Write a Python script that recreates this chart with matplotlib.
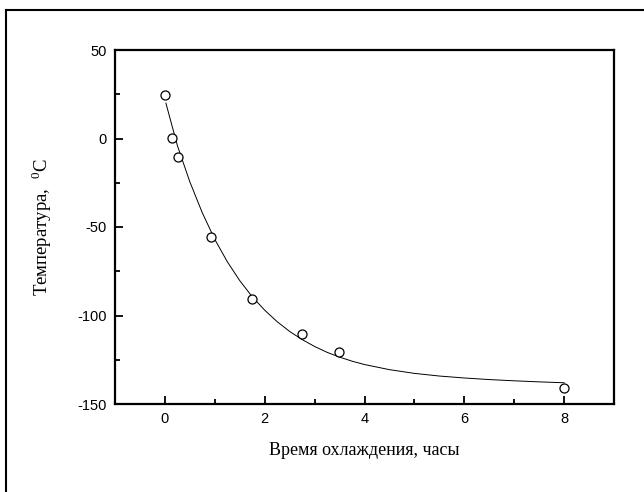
import matplotlib
matplotlib.use("Agg")
import matplotlib.pyplot as plt
from matplotlib.ticker import MultipleLocator
from matplotlib.lines import Line2D

# measured points
time_h = [0.0, 0.15, 0.27, 0.92, 1.74, 2.75, 3.49, 8.0]
temp_c = [24.6, 0.1, -10.5, -55.5, -90.5, -110.5, -120.5, -141.0]

# fitted curve
fit_t = [0.02, 0.25, 0.5, 0.75, 1.0, 1.25, 1.5, 1.75, 2.0, 2.25, 2.5, 2.75, 3.0, 3.25, 3.5, 3.75,
         4.0, 4.5, 5.0, 5.5, 6.0, 6.5, 7.0, 7.5, 8.0]
fit_y = [20.0, -4.0, -24.5, -42.0, -57.0, -69.6, -80.3, -89.4, -97.0, -103.5, -109.0, -113.6, -117.5,
         -120.8, -123.5, -125.8, -127.7, -130.6, -132.7, -134.2, -135.3, -136.2, -136.9, -137.5, -138.0]

plt.rcParams['font.family'] = ['Liberation Sans', 'DejaVu Sans']
plt.rcParams['mathtext.fontset'] = 'custom'
plt.rcParams['mathtext.rm'] = 'Liberation Serif'
plt.rcParams['axes.unicode_minus'] = False

fig = plt.figure(figsize=(6.44, 4.92), dpi=100)
ax = fig.add_axes([115/644, 1 - 404/492, (614-115)/644, (404-50)/492])

ax.plot(fit_t, fit_y, color='black', lw=0.7)
ax.plot(time_h, temp_c, linestyle='none', marker='o', ms=6.5, mfc='white', mec='black', mew=0.9)

ax.set_xlim(-1, 9)
ax.set_ylim(-150, 50)
ax.xaxis.set_major_locator(MultipleLocator(2))
ax.xaxis.set_minor_locator(MultipleLocator(1))
ax.yaxis.set_major_locator(MultipleLocator(50))
ax.yaxis.set_minor_locator(MultipleLocator(25))
ax.tick_params(which='both', direction='in', top=False, right=False, width=1.3, labelsize=10.5)
ax.tick_params(which='major', length=6, pad=6)
ax.tick_params(which='minor', length=3.5)
for s in ax.spines.values():
    s.set_linewidth(1.6)

ax.set_xlabel('Время охлаждения, часы', family='Liberation Serif', fontsize=13, labelpad=11)
ax.set_ylabel('Температура,  $^{\\mathregular{0}}$C', family='Liberation Serif', fontsize=13.5, labelpad=17)

# outer frame
fig.add_artist(Line2D([6/644, 6/644], [0, 1 - 10/492], transform=fig.transFigure, color='black', lw=1.5))
fig.add_artist(Line2D([6/644, 1], [1 - 10/492, 1 - 10/492], transform=fig.transFigure, color='black', lw=1.5))

fig.savefig('out.png', dpi=100)
